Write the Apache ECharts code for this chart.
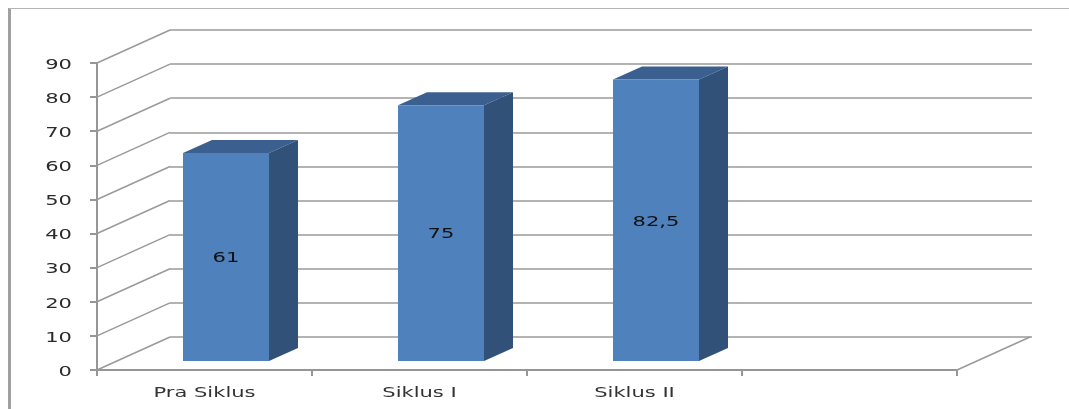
<!DOCTYPE html>
<html><head><meta charset="utf-8">
<style>html,body{margin:0;padding:0;background:#fff}#c{width:1069px;height:409px}</style>
<script src="https://cdn.jsdelivr.net/npm/echarts@6/dist/echarts.min.js"></script>
</head><body><div id="c"></div>
<script>
const categories = ['Pra Siklus', 'Siklus I', 'Siklus II', ''];
const values = [61, 75, 82.5];
const valueLabels = ['61', '75', '82,5'];
const yTicks = [0, 10, 20, 30, 40, 50, 60, 70, 80, 90];

const WALL = {dx: 73, dy: -33};
const DEPTH = {dx: 29, dy: -13};
const FLOOR = {dx: 21.5, dy: -9};
const TEXT_STRETCH = 1.45;
const axisGrey = '#969696', gridGrey = '#9a9a9a';
const front = '#4f81bd', top_ = '#3b6090', side = '#325178';
const labelFont = '14.5px "DejaVu Sans"';

function stretchedText(text, x, y, align, fill, font) {
  return {type: 'text', x, y, scaleX: TEXT_STRETCH,
          style: {text, fill, font, align, verticalAlign: 'middle'}};
}

const chart = echarts.init(document.getElementById('c'), null, {renderer: 'canvas'});
chart.setOption({
  animation: false,
  backgroundColor: '#fff',
  grid: [
    {left: 97, right: 112, top: 63, bottom: 39},
    {left: 170, right: 37, top: 30, bottom: 72}
  ],
  graphic: [
    {type: 'line', silent: true, z: 0, shape: {x1: 9.5, y1: 8, x2: 9.5, y2: 409}, style: {stroke: '#a0a0a0', lineWidth: 3}},
    {type: 'line', silent: true, z: 0, shape: {x1: 9, y1: 8.5, x2: 1069, y2: 8.5}, style: {stroke: '#b4b4b4', lineWidth: 1}}
  ],
  xAxis: [
    {type: 'category', gridIndex: 0, data: categories, boundaryGap: true,
     axisLine: {lineStyle: {color: axisGrey, width: 2}},
     axisTick: {show: true, length: 6, lineStyle: {color: axisGrey, width: 2}},
     axisLabel: {show: false}},
    {type: 'category', gridIndex: 1, data: categories, axisLine: {show: false}, axisTick: {show: false}, axisLabel: {show: false}}
  ],
  yAxis: [
    {type: 'value', gridIndex: 0, min: 0, max: 90, interval: 10,
     axisLine: {show: true, lineStyle: {color: axisGrey, width: 2}},
     axisTick: {show: true, length: 7, lineStyle: {color: axisGrey, width: 2}},
     splitLine: {show: false},
     axisLabel: {show: false}},
    {type: 'value', gridIndex: 1, min: 0, max: 90, interval: 10,
     axisLine: {show: false}, axisTick: {show: false}, axisLabel: {show: false},
     splitLine: {show: true, lineStyle: {color: gridGrey, width: 1.6}}}
  ],
  series: [
    {type: 'custom', xAxisIndex: 0, yAxisIndex: 0, z: 1, silent: true, clip: false,
     data: yTicks.map(v => [0, v]),
     renderItem(params, api) {
       const v = api.value(1);
       const left = params.coordSys.x;
       const p = api.coord([0, v]);
       return {type: 'group', children: [
         {type: 'line', shape: {x1: left, y1: p[1], x2: left + WALL.dx, y2: p[1] + WALL.dy},
          style: {stroke: gridGrey, lineWidth: 1.5}},
         stretchedText(String(v), left - 25, p[1] + 2, 'right', '#2b2b2b', labelFont)
       ]};
     }},
    {type: 'custom', xAxisIndex: 0, yAxisIndex: 0, z: 1, silent: true, clip: false,
     data: [[3, 0]],
     renderItem(params, api) {
       const x = params.coordSys.x + params.coordSys.width;
       const y = api.coord([0, 0])[1];
       return {type: 'line', shape: {x1: x, y1: y, x2: x + WALL.dx, y2: y + WALL.dy},
               style: {stroke: gridGrey, lineWidth: 1.5}};
     }},
    {type: 'custom', xAxisIndex: 0, yAxisIndex: 0, z: 2, silent: true, clip: false,
     data: categories.map((c, i) => [i, 0]),
     renderItem(params, api) {
       const i = api.value(0);
       const p = api.coord([i, 0]);
       return stretchedText(categories[i], p[0], p[1] + 23, 'center', '#333', '14.5px "DejaVu Sans"');
     }},
    {type: 'custom', xAxisIndex: 0, yAxisIndex: 0, z: 3, silent: true, clip: false,
     data: values.map((v, i) => [i, v]),
     encode: {x: 0, y: 1},
     renderItem(params, api) {
       const i = api.value(0), v = api.value(1);
       const c = api.coord([i, v]), b = api.coord([i, 0]);
       const w = api.size([1, 0])[0] * 0.4;
       const x0 = c[0] - w / 2 + FLOOR.dx, x1 = x0 + w;
       const yb = b[1] + FLOOR.dy, yt = c[1] + FLOOR.dy;
       const d = DEPTH;
       return {type: 'group', children: [
         {type: 'polygon', shape: {points: [[x0, yt], [x0 + d.dx, yt + d.dy], [x1 + d.dx, yt + d.dy], [x1, yt]]}, style: {fill: top_}},
         {type: 'polygon', shape: {points: [[x1, yt], [x1 + d.dx, yt + d.dy], [x1 + d.dx, yb + d.dy], [x1, yb]]}, style: {fill: side}},
         {type: 'rect', shape: {x: x0, y: yt, width: w, height: yb - yt}, style: {fill: front}},
         stretchedText(valueLabels[i], (x0 + x1) / 2, (yt + yb) / 2 + 1.5, 'center', '#111', labelFont)
       ]};
     }}
  ]
});
</script></body></html>
